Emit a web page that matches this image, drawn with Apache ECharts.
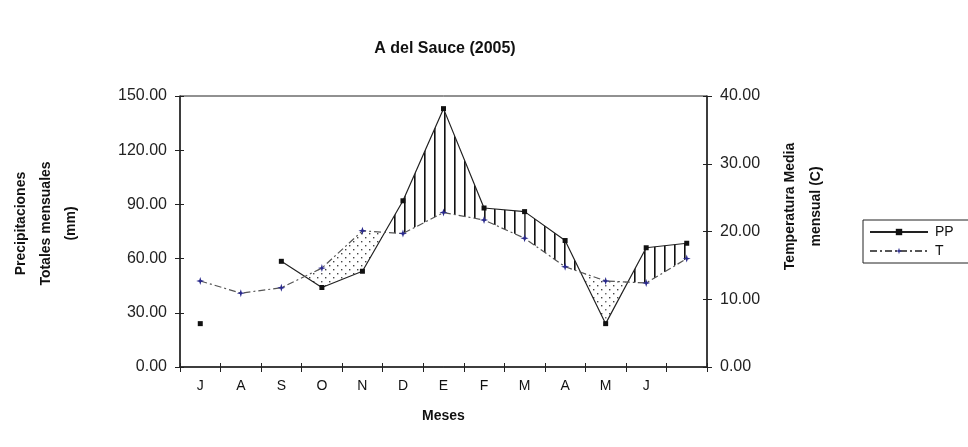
<!DOCTYPE html>
<html>
<head>
<meta charset="utf-8">
<script src="https://cdn.jsdelivr.net/npm/echarts@6/dist/echarts.min.js"></script>
<style>html,body{margin:0;padding:0;background:#fff}#c{width:968px;height:447px}</style>
</head>
<body>
<div id="c"></div>
<script>
var categories = ['J','A','S','O','N','D','E','F','M','A','M','J',''];
var ppValues = [24, null, 58.5, 44, 53, 92, 143, 88, 86, 70, 24, 66, 68.5];
var tValues = [12.7, 10.9, 11.7, 14.6, 20.1, 19.7, 22.8, 21.7, 19.0, 14.8, 12.7, 12.4, 16.0];
var leftTicks = [0, 30, 60, 90, 120, 150];
var rightTicks = [0, 10, 20, 30, 40];
var fillStart = 2;

var FONT = 'Liberation Sans, Arial, sans-serif';
var leftMax = leftTicks[leftTicks.length - 1];
var rightMax = rightTicks[rightTicks.length - 1];
var leftStep = leftTicks[1] - leftTicks[0];
var rightStep = rightTicks[1] - rightTicks[0];
var ratio = leftMax / rightMax;

function makePattern(kind) {
  var c = document.createElement('canvas');
  var ctx = c.getContext('2d');
  if (kind === 'v') {
    c.width = 10; c.height = 10;
    ctx.fillStyle = '#111';
    ctx.fillRect(4, 0, 1.6, 10);
  } else {
    c.width = 8; c.height = 8;
    ctx.fillStyle = '#444';
    ctx.fillRect(1, 1, 1.4, 1.4);
    ctx.fillRect(5, 5, 1.4, 1.4);
  }
  return {image: c, repeat: 'repeat'};
}
var patV = makePattern('v');
var patD = makePattern('d');

var chart = echarts.init(document.getElementById('c'), null, {renderer: 'canvas'});

function renderFill(params, api) {
  var children = [];
  for (var i = fillStart; i < categories.length - 1; i++) {
    var p0 = ppValues[i], p1 = ppValues[i + 1];
    if (p0 == null || p1 == null) continue;
    var t0 = tValues[i] * ratio, t1 = tValues[i + 1] * ratio;
    var P0 = api.coord([i, p0]), P1 = api.coord([i + 1, p1]);
    var T0 = api.coord([i, t0]), T1 = api.coord([i + 1, t1]);
    var d0 = p0 - t0, d1 = p1 - t1;
    var polys = [];
    if (d0 * d1 >= 0) {
      polys.push({pts: [P0, P1, T1, T0], up: (d0 + d1) > 0});
    } else {
      var f = d0 / (d0 - d1);
      var X = [P0[0] + (P1[0] - P0[0]) * f, P0[1] + (P1[1] - P0[1]) * f];
      if (i !== fillStart) polys.push({pts: [P0, X, T0], up: d0 > 0});
      polys.push({pts: [X, P1, T1], up: d1 > 0});
    }
    polys.forEach(function (pg) {
      children.push({
        type: 'polygon',
        shape: {points: pg.pts},
        style: {fill: pg.up ? patV : patD, stroke: null},
        silent: true
      });
    });
  }
  return {type: 'group', children: children};
}

var tickLbl = {fontFamily: FONT, fontSize: 16, color: '#222', margin: 13,
  formatter: function (v) { return v.toFixed(2); }};
var nameStyle = {fontFamily: FONT, fontSize: 14, fontWeight: 'bold', color: '#111'};

var option = {
  animation: false,
  backgroundColor: '#fff',
  title: {
    text: 'A del Sauce (2005)',
    left: 440, top: 36, textAlign: 'center',
    textStyle: {fontFamily: FONT, fontSize: 16, fontWeight: 'bold', color: '#111'}
  },
  legend: {
    orient: 'vertical',
    left: 863, top: 220,
    borderColor: '#222', borderWidth: 1,
    padding: [5, 30, 5, 6],
    itemGap: 5,
    itemWidth: 58, itemHeight: 8,
    data: ['PP', 'T'],
    textStyle: {fontFamily: FONT, fontSize: 14, color: '#111', padding: [0, 0, 0, 2]}
  },
  grid: {
    left: 180, top: 96, width: 527, height: 271,
    show: true, borderColor: '#222', borderWidth: 1,
    containLabel: false, outerBoundsMode: 'none'
  },
  xAxis: [{
    type: 'category',
    data: categories,
    boundaryGap: true,
    name: 'Meses',
    nameLocation: 'middle',
    nameGap: 42,
    nameTextStyle: nameStyle,
    axisLine: {lineStyle: {color: '#222', width: 1.5}},
    axisTick: {show: true, length: 5, lineStyle: {color: '#222'}},
    axisLabel: {fontFamily: FONT, fontSize: 14, color: '#111', margin: 12, interval: 0},
    splitLine: {show: false}
  }, {
    type: 'category',
    data: categories,
    boundaryGap: true,
    position: 'bottom',
    axisLine: {show: false},
    axisTick: {show: true, inside: true, length: 4, lineStyle: {color: '#222'}},
    axisLabel: {show: false},
    splitLine: {show: false}
  }],
  yAxis: [{
    type: 'value',
    min: 0, max: leftMax, interval: leftStep,
    position: 'left',
    name: 'Precipitaciones\nTotales mensuales\n(mm)',
    nameLocation: 'middle',
    nameRotate: 90,
    nameGap: 96,
    nameTextStyle: Object.assign({lineHeight: 25, padding: [0, 0, 0, 16]}, nameStyle),
    axisLine: {show: true, lineStyle: {color: '#222', width: 1.5}},
    axisTick: {show: true, length: 5, lineStyle: {color: '#222'}},
    axisLabel: tickLbl,
    splitLine: {show: false}
  }, {
    type: 'value',
    min: 0, max: rightMax, interval: rightStep,
    position: 'right',
    name: 'Temperatura Media\nmensual (C)',
    nameLocation: 'middle',
    nameRotate: 90,
    nameGap: 70,
    nameTextStyle: Object.assign({lineHeight: 26, padding: [0, 0, 0, 50]}, nameStyle),
    axisLine: {show: true, lineStyle: {color: '#222', width: 1.5}},
    axisTick: {show: true, length: 5, lineStyle: {color: '#222'}},
    axisLabel: tickLbl,
    splitLine: {show: false}
  }, {
    type: 'value',
    min: 0, max: leftMax, interval: leftStep,
    position: 'left', offset: 0,
    axisLine: {show: false},
    axisTick: {show: true, inside: true, length: 4, lineStyle: {color: '#222'}},
    axisLabel: {show: false},
    splitLine: {show: false}
  }, {
    type: 'value',
    min: 0, max: rightMax, interval: rightStep,
    position: 'right', offset: 0,
    axisLine: {show: false},
    axisTick: {show: true, inside: true, length: 4, lineStyle: {color: '#222'}},
    axisLabel: {show: false},
    splitLine: {show: false}
  }],
  series: [{
    type: 'custom',
    name: 'fill',
    xAxisIndex: 0, yAxisIndex: 0,
    data: [[0, 0]],
    renderItem: renderFill,
    silent: true,
    z: 1
  }, {
    type: 'line',
    name: 'PP',
    yAxisIndex: 0,
    data: ppValues,
    connectNulls: false,
    symbol: 'rect',
    symbolSize: 5,
    showAllSymbol: true,
    itemStyle: {color: '#111'},
    lineStyle: {color: '#222', width: 1.2},
    z: 3
  }, {
    type: 'line',
    name: 'T',
    yAxisIndex: 1,
    data: tValues,
    symbol: 'path://M0,-5L1.2,-1.2L5,0L1.2,1.2L0,5L-1.2,1.2L-5,0L-1.2,-1.2Z',
    symbolSize: 8,
    showAllSymbol: true,
    itemStyle: {color: '#2a2a8c'},
    lineStyle: {color: '#555', width: 1.2, type: [7, 3, 2, 3]},
    z: 3
  }]
};
chart.setOption(option);
</script>
</body>
</html>
